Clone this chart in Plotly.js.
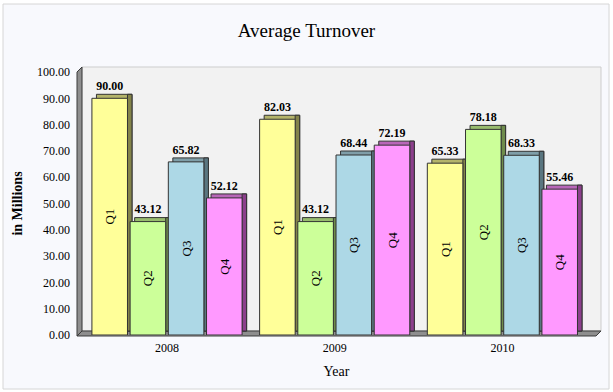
<!DOCTYPE html>
<html>
<head>
<meta charset="utf-8">
<script src="https://cdn.plot.ly/plotly-3.0.1.min.js"></script>
<style>
  html, body { margin: 0; padding: 0; background: #ffffff; }
  #chart { width: 613px; height: 392px; }
</style>
</head>
<body>
<div id="chart"></div>
<script>
// ---- data ----
const years = ['2008', '2009', '2010'];
const quarters = ['Q1', 'Q2', 'Q3', 'Q4'];
const q1 = [90.00, 82.03, 65.33];
const q2 = [43.12, 43.12, 78.18];
const q3 = [65.82, 68.44, 68.33];
const q4 = [52.12, 72.19, 55.46];
const series = [q1, q2, q3, q4];

// ---- styles ----
const frontColors = ['#ffff99', '#ccff99', '#add8e6', '#ff99ff'];
const topColors   = ['#b4b46a', '#98bb6e', '#7f9ea8', '#b866b8'];
const sideColors  = ['#84844a', '#6f8c4c', '#5a7680', '#8c3f8c'];
const edge = '#333333';
const serif = 'Liberation Serif, Times New Roman, serif';

const pitch = 0.2278;   // slot per bar (category units)
const w = 0.212;        // front face width
const dx = 0.027;       // depth in x (category units)
const dy = 1.52;        // depth in y (value units)
const labelLift = 2.0;  // gap between bar top and value label (value units)
const catX = years.map((_, k) => k);

const traces = [];
series.forEach((vals, i) => {
  const center = (i - 1.5) * pitch;
  const off = center - w / 2;
  // top face (depth block)
  traces.push({
    type: 'bar', x: catX, y: vals, base: dy,
    offset: off + dx, width: w,
    marker: { color: topColors[i], line: { color: edge, width: 1 } },
    hoverinfo: 'skip', showlegend: false
  });
  // side face
  traces.push({
    type: 'bar', x: catX, y: vals, base: dy,
    offset: off + w, width: dx,
    marker: { color: sideColors[i], line: { color: edge, width: 1 } },
    hoverinfo: 'skip', showlegend: false
  });
  // front face
  traces.push({
    type: 'bar', x: catX, y: vals, base: 0,
    offset: off, width: w,
    name: quarters[i],
    text: years.map(() => quarters[i]),
    textposition: 'inside', insidetextanchor: 'middle', textangle: -90,
    constraintext: 'none',
    textfont: { family: serif, size: 13, color: '#000000' },
    marker: { color: frontColors[i], line: { color: edge, width: 1 } },
    hoverinfo: 'skip', showlegend: false
  });
});
// value labels
series.forEach((vals, i) => {
  const center = (i - 1.5) * pitch;
  traces.push({
    type: 'scatter', mode: 'text',
    x: catX.map(k => k + center), y: vals.map(v => v + labelLift),
    text: vals.map(v => '<b>' + v.toFixed(2) + '</b>'), textposition: 'top center',
    textfont: { family: serif, size: 12, color: '#000000' },
    cliponaxis: false, hoverinfo: 'skip', showlegend: false
  });
});

// pixel -> paper helpers for decorations (plot area 77..596 x, 72..335 y)
const L = 77, R = 596, T = 72, B = 335;
const px = x => (x - L) / (R - L);
const py = y => (B - y) / (B - T);
const path = pts => 'M' + pts.map(p => px(p[0]).toFixed(5) + ',' + py(p[1]).toFixed(5)).join(' L') + ' Z';

const layout = {
  width: 613, height: 392,
  margin: { l: L, r: 613 - R, t: T, b: 392 - B, pad: 0 },
  paper_bgcolor: '#ffffff',
  plot_bgcolor: 'rgba(0,0,0,0)',
  barmode: 'overlay',
  showlegend: false,
  font: { family: serif, color: '#000000', size: 12 },
  title: {
    text: 'Average Turnover',
    font: { family: serif, size: 19, color: '#000000' },
    x: 0.5, xanchor: 'center', xref: 'container',
    y: 1 - 30 / 392, yanchor: 'middle', yref: 'container'
  },
  xaxis: {
    range: [(L - 167) / 167.7, (R - 167) / 167.7],
    tickvals: catX, ticktext: years,
    ticks: '', showgrid: false, zeroline: false, showline: false,
    tickfont: { family: serif, size: 12, color: '#000000' },
    ticklabelstandoff: 4,
    title: { text: 'Year', font: { family: serif, size: 14, color: '#000000' }, standoff: 12 }
  },
  yaxis: {
    range: [0, 100], tickvals: [0, 10, 20, 30, 40, 50, 60, 70, 80, 90, 100],
    tickformat: '.2f',
    ticks: '', showgrid: false, zeroline: false, showline: false,
    tickfont: { family: serif, size: 12, color: '#000000' },
    ticklabelstandoff: 6,
    title: { text: '<b>in Millions</b>', font: { family: serif, size: 14, color: '#000000' }, standoff: 11 }
  },
  shapes: [
    // outer panel
    { type: 'rect', xref: 'paper', yref: 'paper', layer: 'below',
      x0: px(3), x1: px(609), y0: py(389), y1: py(4),
      fillcolor: '#f8f9fd', line: { color: '#d6d6d6', width: 1 } },
    // back wall
    { type: 'rect', xref: 'paper', yref: 'paper', layer: 'below',
      x0: px(82), x1: px(601), y0: py(331), y1: py(67),
      fillcolor: '#f2f2f2', line: { color: '#cdcdcd', width: 1 } },
    // left wall
    { type: 'path', xref: 'paper', yref: 'paper', layer: 'below',
      path: path([[77, 72], [82, 67], [82, 331], [77, 336]]),
      fillcolor: '#8e8e8e', line: { color: '#3a3a3a', width: 1 } },
    // floor
    { type: 'path', xref: 'paper', yref: 'paper', layer: 'below',
      path: path([[77, 336], [82, 331], [601, 331], [596, 336]]),
      fillcolor: '#8e8e8e', line: { color: '#3a3a3a', width: 1 } }
  ]
};

Plotly.newPlot('chart', traces, layout, { displayModeBar: false, staticPlot: true });
</script>
</body>
</html>
